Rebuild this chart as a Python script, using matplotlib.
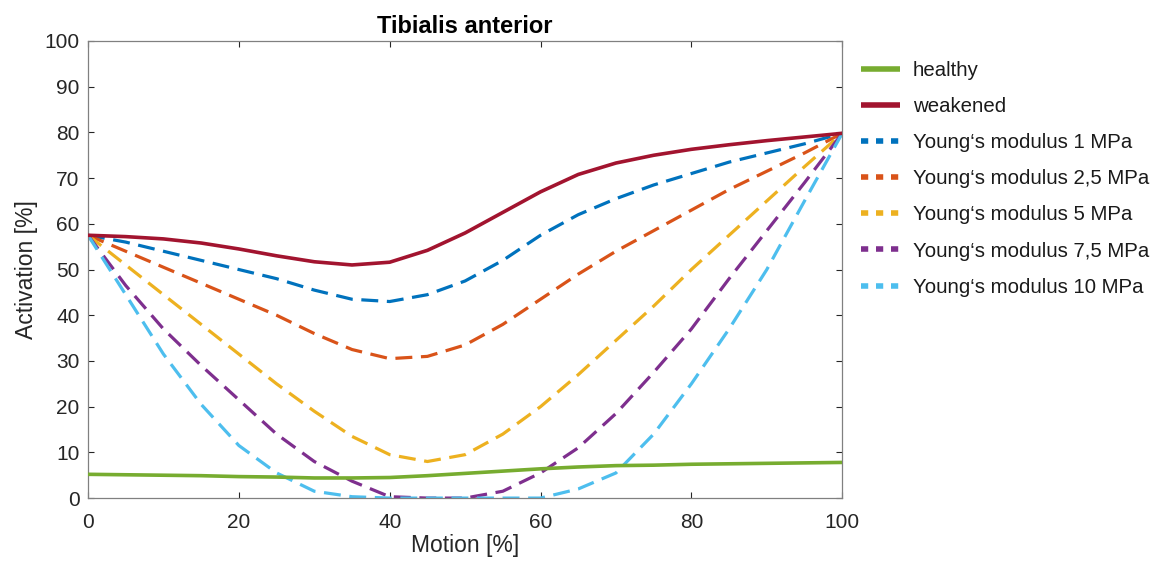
import matplotlib
matplotlib.use("Agg")
import matplotlib.pyplot as plt
from matplotlib.lines import Line2D

plt.rcParams['font.family'] = ['Liberation Sans', 'DejaVu Sans']

motion = [0, 5, 10, 15, 20, 25, 30, 35, 40, 45, 50, 55, 60, 65, 70, 75, 80, 85, 90, 95, 100]

healthy = [5.2, 5.1, 5.0, 4.9, 4.7, 4.6, 4.4, 4.4, 4.5, 4.9, 5.4, 5.9, 6.4, 6.8, 7.1, 7.2, 7.4, 7.5, 7.6, 7.7, 7.8]
weakened = [57.5, 57.2, 56.7, 55.8, 54.5, 53.0, 51.7, 51.0, 51.6, 54.2, 58.0, 62.5, 67.0, 70.8, 73.3, 75.0, 76.3, 77.3, 78.2, 79.0, 79.8]
ym_1 = [57.5, 56.0, 54.0, 52.0, 50.0, 48.0, 45.5, 43.5, 43.0, 44.5, 47.5, 52.0, 57.5, 62.0, 65.5, 68.5, 71.0, 73.5, 75.5, 77.5, 79.8]
ym_2_5 = [57.5, 54.0, 50.5, 47.0, 43.5, 40.0, 36.0, 32.5, 30.5, 31.0, 33.5, 38.0, 43.5, 49.0, 54.0, 58.5, 63.0, 67.5, 71.5, 75.5, 79.8]
ym_5 = [57.5, 51.0, 44.5, 38.0, 31.5, 25.0, 19.0, 13.5, 9.5, 8.0, 9.5, 14.0, 20.0, 27.0, 34.5, 42.0, 50.0, 57.5, 65.0, 72.5, 79.8]
ym_7_5 = [57.5, 46.5, 37.0, 29.0, 21.5, 14.0, 8.0, 3.7, 0.3, 0.0, 0.0, 1.5, 5.5, 11.0, 18.5, 27.5, 37.0, 48.0, 58.5, 69.0, 79.8]
ym_10 = [57.5, 44.5, 31.5, 20.5, 11.5, 5.5, 1.5, 0.3, 0.0, 0.0, 0.0, 0.0, 0.0, 2.0, 5.5, 14.0, 25.0, 37.0, 50.0, 65.0, 79.8]

labels = ['healthy', 'weakened', 'Young\u2018s modulus 1 MPa', 'Young\u2018s modulus 2,5 MPa',
          'Young\u2018s modulus 5 MPa', 'Young\u2018s modulus 7,5 MPa', 'Young\u2018s modulus 10 MPa']
colors = ['#77AC30', '#A2142F', '#0072BD', '#D95319', '#EDB120', '#7E2F8E', '#4DBEEE']

fig = plt.figure(figsize=(11.55, 5.66), dpi=100)
ax = fig.add_axes([0.0762, 0.12, 0.653, 0.8076])

series = [healthy, weakened, ym_1, ym_2_5, ym_5, ym_7_5, ym_10]
for i, (s, c) in enumerate(zip(series, colors)):
    if i < 2:
        ax.plot(motion, s, color=c, lw=2.6, solid_capstyle='butt', zorder=3 if i == 0 else 4)
    else:
        ax.plot(motion, s, color=c, lw=2.3, linestyle=(0, (5.3, 2.7)), zorder=2)

ax.set_xlim(0, 100)
ax.set_ylim(0, 100)
ax.set_xticks(range(0, 101, 20))
ax.set_yticks(range(0, 101, 10))
ax.tick_params(direction='in', top=True, right=True, length=4, width=0.8,
               labelsize=15, colors='#262626')
ax.tick_params(axis='x', pad=10.5)
ax.tick_params(axis='y', pad=6)
for sp in ax.spines.values():
    sp.set_color('#808080')
    sp.set_linewidth(0.9)

ax.set_xlabel('Motion [%]', fontsize=16.5, color='#262626', labelpad=2)
ax.set_ylabel('Activation [%]', fontsize=16.5, color='#262626', labelpad=5)
ax.set_title('Tibialis anterior', fontsize=17, fontweight='bold', color='#000000', pad=6)

handles = []
for i, c in enumerate(colors):
    if i < 2:
        handles.append(Line2D([], [], color=c, lw=4, solid_capstyle='butt'))
    else:
        handles.append(Line2D([], [], color=c, lw=4, linestyle=(0, (1.3, 1.4)), dash_capstyle='butt'))
leg = fig.legend(handles, labels, loc='upper left', bbox_to_anchor=(0.7385, 0.907),
                 frameon=False, fontsize=14.7, handlelength=1.92, handletextpad=0.6,
                 labelspacing=0.84, borderaxespad=0)
for t in leg.get_texts():
    t.set_color('#1a1a1a')

fig.savefig('out.png', dpi=100)
